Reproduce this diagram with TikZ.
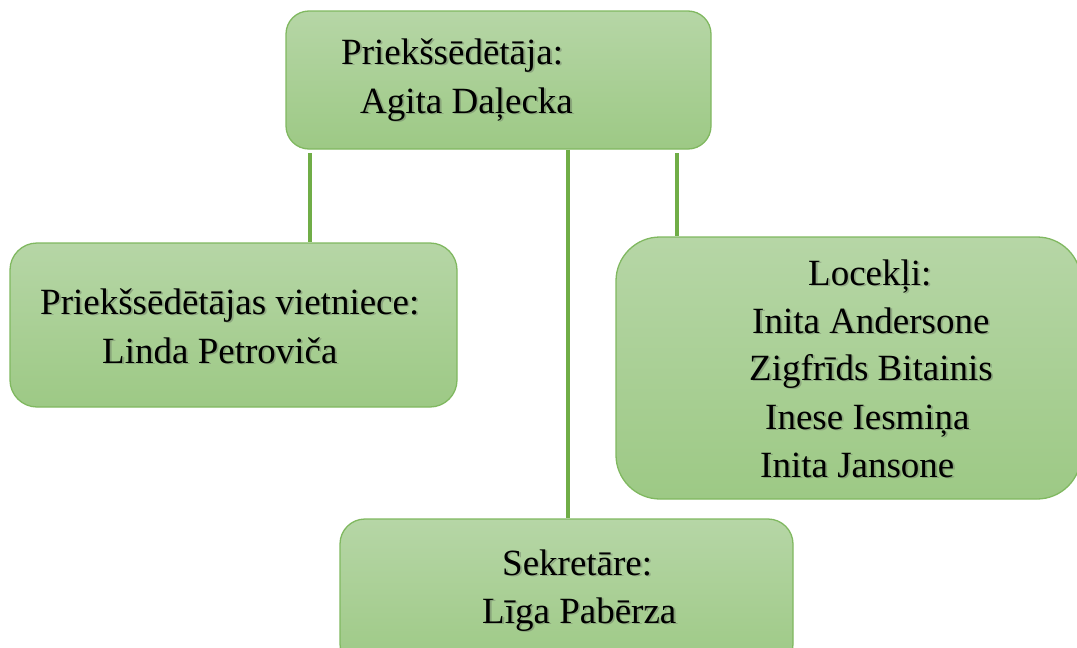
\documentclass[tikz,border=0pt]{standalone}
\usepackage{fontspec}
\setmainfont{Liberation Serif}
\definecolor{lnG}{HTML}{70AD47}
\definecolor{bdG}{HTML}{80B860}
\definecolor{topG}{HTML}{B6D6A6}
\definecolor{botG}{HTML}{9DC985}
\tikzset{
  box/.style={draw=bdG, line width=1.3pt, top color=topG, bottom color=botG, inner sep=0pt},
  conn/.style={draw=lnG, line width=3.3pt},
  txt/.style={anchor=base west, inner sep=0pt, font=\fontsize{37}{47}\selectfont},
}
\newcommand{\tline}[4]{%
  \node[txt, text=black!70, text opacity=0.3] (#1s) at (#2+1.8,#3+1.8) {#4};
  \node[txt] (#1) at (#2,#3) {#4};}
\begin{document}
\begin{tikzpicture}[x=1pt,y=-1pt]
\useasboundingbox (0,0) rectangle (1077,648);
\clip (0,0) rectangle (1077,648);
% boxes
\node[box, rounded corners=23pt, minimum width=425pt, minimum height=138pt] (top) at (498.5,80) {};
\node[box, rounded corners=27pt, minimum width=447pt, minimum height=164pt] (left) at (233.5,325) {};
\node[box, rounded corners=44pt, minimum width=465pt, minimum height=262pt] (right) at (848.5,368) {};
\node[box, rounded corners=25pt, minimum width=453pt, minimum height=150pt] (bottom) at (566.5,594) {};
% connectors
\coordinate (c1) at (310,153);
\coordinate (c2) at (568,149);
\coordinate (c3) at (677,153);
\draw[conn] (c1) -- (c1 |- left.north);
\draw[conn] (top.south -| c2) -- (bottom.north -| c2);
\draw[conn] (c3) -- (c3 |- right.north);
% texts
\tline{t1}{341}{64}{Priekšsēdētāja:}
\tline{t2}{360}{113}{Agita Daļecka}
\tline{l1}{40}{314}{Priekšsēdētājas vietniece:}
\tline{l2}{102}{363}{Linda Petroviča}
\tline{r1}{808}{285}{Locekļi:}
\tline{r2}{752}{333}{Inita Andersone}
\tline{r3}{749}{380}{Zigfrīds Bitainis}
\tline{r4}{765}{429}{Inese Iesmiņa}
\tline{r5}{760}{477}{Inita Jansone}
\tline{b1}{502}{575}{Sekretāre:}
\tline{b2}{482}{623}{Līga Pabērza}
\end{tikzpicture}
\end{document}
